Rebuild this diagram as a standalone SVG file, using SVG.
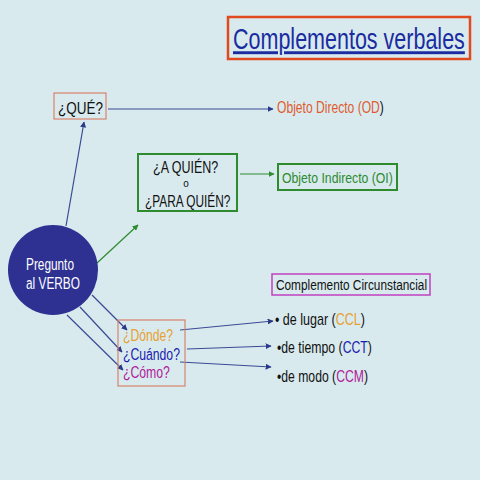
<svg xmlns="http://www.w3.org/2000/svg" width="480" height="480" viewBox="0 0 480 480">
<style>
text{font-family:"Liberation Sans",Arial,sans-serif;}
.c{stroke:#3a4a94;stroke-width:1.2;fill:none;marker-end:url(#ab);}
.g{stroke:#2e8b2e;stroke-width:1.2;fill:none;marker-end:url(#ag);}
.box{fill:none;stroke:#d9826a;stroke-width:1.2;}
.gb{fill:none;stroke:#2e8b2e;stroke-width:2;}
</style>
<defs>
<marker id="ab" viewBox="0 0 10 10" refX="9" refY="5" markerWidth="6" markerHeight="6" markerUnits="userSpaceOnUse" orient="auto"><path d="M0,0L10,5L0,10z" fill="#2a3a8a"/></marker>
<marker id="ag" viewBox="0 0 10 10" refX="9" refY="5" markerWidth="6" markerHeight="6" markerUnits="userSpaceOnUse" orient="auto"><path d="M0,0L10,5L0,10z" fill="#2e8b2e"/></marker>
</defs>
<rect width="480" height="480" fill="#d8eaee"/>
<g id="title">
<rect x="228" y="17" width="242" height="42" fill="none" stroke="#e04a1e" stroke-width="2.5"/>
<text transform="translate(233,49) scale(0.742,1)" font-size="29" fill="#1a2ca0" text-decoration="underline">Complementos verbales</text>
</g>
<g id="connectors">
<line class="c" x1="66" y1="226" x2="84" y2="122"/>
<line class="c" x1="108" y1="109" x2="273" y2="109"/>
<line class="g" x1="97" y1="263" x2="138" y2="225"/>
<line class="g" x1="240" y1="174" x2="274" y2="174"/>
<line class="c" x1="92" y1="295" x2="127" y2="330"/>
<line class="c" x1="80" y1="307" x2="122" y2="352"/>
<line class="c" x1="67" y1="315" x2="123" y2="370"/>
<line class="c" x1="180" y1="330" x2="273" y2="321"/>
<line class="c" x1="187" y1="349" x2="271" y2="346"/>
<line class="c" x1="180" y1="362" x2="271" y2="367"/>
</g>
<g id="que">
<rect class="box" x="54" y="93" width="52" height="26"/>
<text transform="translate(58,114) scale(0.844,1)" font-size="16" fill="#111">¿QUÉ?</text>
</g>
<g id="od">
<text transform="translate(277,113) scale(0.757,1)" font-size="16" fill="#e05a30">Objeto Directo (OD<tspan fill="#111">)</tspan></text>
</g>
<g id="aquien">
<rect class="gb" x="138" y="154" width="99" height="57"/>
<text transform="translate(153,173) scale(0.781,1)" font-size="16" fill="#111">¿A QUIÉN?</text>
<text x="186" y="187" font-size="10" fill="#111" text-anchor="middle">o</text>
<text transform="translate(145,207) scale(0.741,1)" font-size="16" fill="#111">¿PARA QUIÉN?</text>
</g>
<g id="oi">
<rect class="gb" x="278" y="164" width="119" height="26"/>
<text transform="translate(282,183) scale(0.79,1)" font-size="15.5" fill="#2e8b2e">Objeto Indirecto (OI)</text>
</g>
<g id="verbo">
<circle cx="53" cy="270" r="45" fill="#2e3192"/>
<text transform="translate(26,270) scale(0.717,1)" font-size="16.5" fill="#fff">Pregunto</text>
<text transform="translate(26,289) scale(0.718,1)" font-size="16.5" fill="#fff">al VERBO</text>
</g>
<g id="preguntas">
<rect class="box" x="118" y="320" width="67" height="66"/>
<text transform="translate(123,341) scale(0.715,1)" font-size="17" fill="#e8a030">¿Dónde?</text>
<text transform="translate(123,360) scale(0.718,1)" font-size="17" fill="#1a1ab0">¿Cuándo?</text>
<text transform="translate(123,378) scale(0.721,1)" font-size="17" fill="#b0209a">¿Cómo?</text>
</g>
<g id="cc">
<rect x="272" y="274" width="158" height="21" fill="none" stroke="#c040c0" stroke-width="1.5"/>
<text transform="translate(276,290) scale(0.788,1)" font-size="15" fill="#111">Complemento Circunstancial</text>
</g>
<g id="lugar">
<text transform="translate(275,325) scale(0.783,1)" font-size="16" fill="#111">• de lugar (<tspan fill="#e8a030">CCL</tspan>)</text>
</g>
<g id="tiempo">
<text transform="translate(277,353) scale(0.767,1)" font-size="16" fill="#111">•de tiempo (<tspan fill="#1a1ab0">CCT</tspan>)</text>
</g>
<g id="modo">
<text transform="translate(277,382) scale(0.762,1)" font-size="16" fill="#111">•de modo (<tspan fill="#b0209a">CCM</tspan>)</text>
</g>
</svg>
